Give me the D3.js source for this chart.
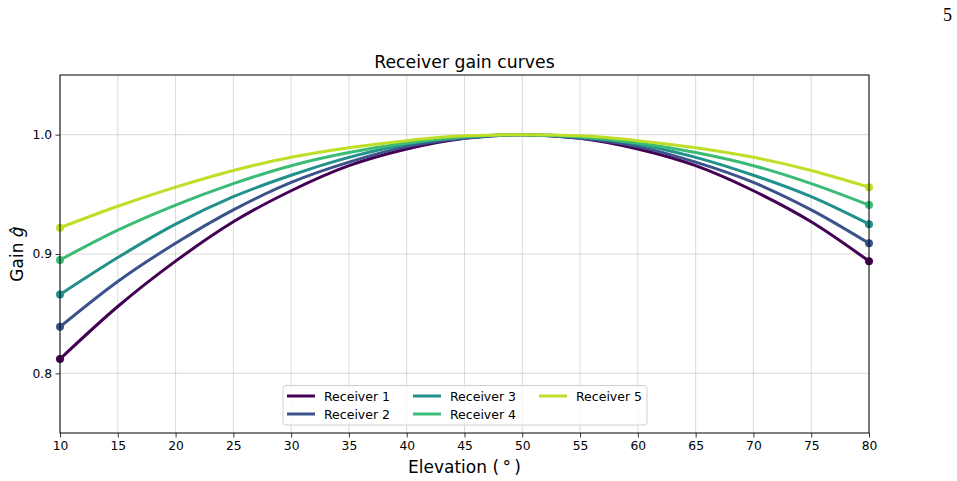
<!DOCTYPE html>
<html><head><meta charset="utf-8">
<script src="https://cdn.jsdelivr.net/npm/d3@7"></script>
<style>body{margin:0;background:#fff}svg{display:block}text{font-family:"DejaVu Sans",sans-serif}</style>
</head><body><svg id="c" width="957" height="481"></svg>
<script>
const elevation = [10,15,20,25,30,35,40,45,50,55,60,65,70,75,80];
const receiver1 = [0.812,0.856,0.894,0.927,0.953,0.974,0.988,0.997,1.000,0.997,0.988,0.974,0.953,0.927,0.894];
const receiver2 = [0.839,0.877,0.909,0.937,0.960,0.977,0.990,0.997,1.000,0.997,0.990,0.977,0.960,0.937,0.909];
const receiver3 = [0.866,0.897,0.925,0.948,0.966,0.981,0.992,0.998,1.000,0.998,0.992,0.981,0.966,0.948,0.925];
const receiver4 = [0.895,0.920,0.941,0.959,0.974,0.985,0.993,0.998,1.000,0.998,0.993,0.985,0.974,0.959,0.941];
const receiver5 = [0.922,0.940,0.956,0.970,0.981,0.989,0.995,0.999,1.000,0.999,0.995,0.989,0.981,0.970,0.956];
const seriesNames = ["Receiver 1","Receiver 2","Receiver 3","Receiver 4","Receiver 5"];
const xTicks = [10,15,20,25,30,35,40,45,50,55,60,65,70,75,80];
const yTicks = [0.8,0.9,1.0];

const allSeries = [receiver1,receiver2,receiver3,receiver4,receiver5];
const colors = ["#440154","#3b528b","#21918c","#3bbb75","#bddf26"];

const svg = d3.select("#c");
const L=60,R=869,T=75,B=433;
const x = d3.scaleLinear().domain([10,80]).range([L,R]);
const y = d3.scaleLinear().domain([0.75,1.05]).range([B,T]);

// grid
svg.append("g").selectAll("line").data(xTicks).join("line")
  .attr("x1",d=>x(d)).attr("x2",d=>x(d)).attr("y1",T).attr("y2",B)
  .attr("stroke","#b0b0b0").attr("stroke-opacity",0.6).attr("stroke-width",0.8);
svg.append("g").selectAll("line").data(yTicks).join("line")
  .attr("x1",L).attr("x2",R).attr("y1",d=>y(d)).attr("y2",d=>y(d))
  .attr("stroke","#b0b0b0").attr("stroke-opacity",0.6).attr("stroke-width",0.8);

// lines
const line = d3.line().x((d,i)=>x(elevation[i])).y(d=>y(d)).curve(d3.curveMonotoneX);
allSeries.forEach((s,k)=>{
  svg.append("path").datum(s).attr("d",line).attr("fill","none")
    .attr("stroke",colors[k]).attr("stroke-width",3).attr("stroke-linecap","square");
});
allSeries.forEach((s,k)=>{
  const ends=[0,s.length-1];
  svg.append("g").selectAll("circle").data(ends).join("circle")
    .attr("cx",i=>x(elevation[i])).attr("cy",i=>y(s[i])).attr("r",4).attr("fill",colors[k]);
});

// axes
const xa = svg.append("g").attr("transform",`translate(0,${B})`)
  .call(d3.axisBottom(x).tickValues(xTicks).tickSize(4.5).tickPadding(3.5).tickFormat(d3.format("d")));
const ya = svg.append("g").attr("transform",`translate(${L},0)`)
  .call(d3.axisLeft(y).tickValues(yTicks).tickSize(4.5).tickPadding(3.5).tickFormat(d3.format(".1f")));
[xa,ya].forEach(a=>{a.select(".domain").remove();a.selectAll("text").attr("font-size",12.3).attr("fill","#000").style("font-family","DejaVu Sans");a.selectAll("line").attr("stroke","#000").attr("stroke-width",0.8);});

// spines
svg.append("rect").attr("x",L).attr("y",T).attr("width",R-L).attr("height",B-T)
  .attr("fill","none").attr("stroke","#000").attr("stroke-width",1);

// legend
const lg = svg.append("g");
lg.append("rect").attr("x",283).attr("y",385.5).attr("width",364).attr("height",39.5).attr("rx",3)
  .attr("fill","#fff").attr("fill-opacity",0.8).attr("stroke","#d0d0d0").attr("stroke-width",1);
const colX=[287,413,539], rowY=[396,414];
seriesNames.forEach((n,k)=>{
  const cx=colX[Math.floor(k/2)], cy=rowY[k%2];
  lg.append("line").attr("x1",cx).attr("x2",cx+28).attr("y1",cy).attr("y2",cy).attr("stroke",colors[k]).attr("stroke-width",3);
  lg.append("text").attr("x",cx+37).attr("y",cy+4.5).attr("font-size",12.5).text(n);
});

// titles
svg.append("text").attr("x",(L+R)/2).attr("y",68).attr("text-anchor","middle").attr("font-size",17.3).text("Receiver gain curves");
svg.append("text").attr("x",(L+R)/2).attr("y",473).attr("text-anchor","middle").attr("font-size",17).text("Elevation (\u2009\u00B0\u2009)");
const yl = svg.append("text").attr("transform",`translate(23,${(T+B)/2}) rotate(-90)`).attr("text-anchor","middle").attr("font-size",17);
yl.append("tspan").text("Gain ");
yl.append("tspan").attr("font-style","italic").text("g\u0302");
svg.append("text").attr("x",952).attr("y",21).attr("text-anchor","end").attr("font-size",18).style("font-family","'Liberation Serif',serif").text("5");
</script></body></html>
